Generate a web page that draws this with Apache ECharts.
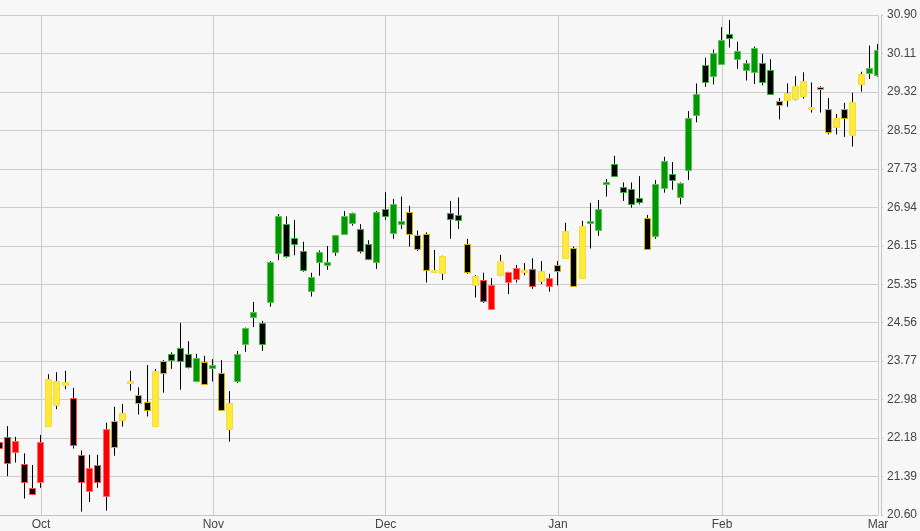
<!DOCTYPE html>
<html>
<head>
<meta charset="utf-8">
<script src="https://cdn.jsdelivr.net/npm/echarts@6/dist/echarts.min.js"></script>
<style>
html,body{margin:0;padding:0;background:#f7f7f7;}
#chart{width:920px;height:531px;}
</style>
</head>
<body>
<div id="chart"></div>
<script>
const dates = [
'2022-09-26','2022-09-27','2022-09-28','2022-09-29','2022-09-30',
'2022-10-03','2022-10-04','2022-10-05','2022-10-06','2022-10-07','2022-10-10','2022-10-11','2022-10-12','2022-10-13','2022-10-14',
'2022-10-17','2022-10-18','2022-10-19','2022-10-20','2022-10-21','2022-10-24','2022-10-25','2022-10-26','2022-10-27','2022-10-28','2022-10-31',
'2022-11-01','2022-11-02','2022-11-03','2022-11-04','2022-11-07','2022-11-08','2022-11-09','2022-11-10','2022-11-11','2022-11-14',
'2022-11-15','2022-11-16','2022-11-17','2022-11-18','2022-11-21','2022-11-22','2022-11-23','2022-11-25','2022-11-28','2022-11-29','2022-11-30',
'2022-12-01','2022-12-02','2022-12-05','2022-12-06','2022-12-07','2022-12-08','2022-12-09','2022-12-12','2022-12-13','2022-12-14',
'2022-12-15','2022-12-16','2022-12-19','2022-12-20','2022-12-21','2022-12-22','2022-12-23','2022-12-27','2022-12-28','2022-12-29','2022-12-30',
'2023-01-03','2023-01-04','2023-01-05','2023-01-06','2023-01-09','2023-01-10','2023-01-11','2023-01-12','2023-01-13','2023-01-17',
'2023-01-18','2023-01-19','2023-01-20','2023-01-23','2023-01-24','2023-01-25','2023-01-26','2023-01-27','2023-01-30','2023-01-31',
'2023-02-01','2023-02-02','2023-02-03','2023-02-06','2023-02-07','2023-02-08','2023-02-09','2023-02-10','2023-02-13','2023-02-14',
'2023-02-15','2023-02-16','2023-02-17','2023-02-21','2023-02-22','2023-02-23','2023-02-24','2023-02-27','2023-02-28',
'2023-03-01'];

const openVals = [
22.11,22.21,21.90,21.66,21.16,21.27,22.43,22.87,23.27,23.00,
21.84,21.09,21.63,20.99,22.54,22.56,23.32,23.07,22.93,22.43,
23.77,23.91,24.05,23.91,23.37,23.76,23.63,23.53,22.37,23.36,
24.12,24.67,24.55,24.99,25.99,26.60,26.31,26.04,25.21,25.81,
25.75,26.01,26.39,26.61,26.50,26.19,25.81,26.91,26.40,26.59,
26.84,26.37,26.39,25.61,25.59,26.83,26.77,26.19,25.33,25.45,
24.84,25.54,25.39,25.46,25.61,25.67,25.43,25.31,25.75,25.89,
26.11,25.48,26.62,26.47,27.41,27.84,27.36,27.32,27.14,26.72,
26.34,27.34,27.63,27.16,27.70,28.84,29.88,29.65,29.89,30.50,
29.99,29.77,29.73,29.91,29.76,29.12,29.15,29.16,29.23,28.96,
29.42,28.96,28.59,28.96,28.43,29.48,29.70,29.66];

const closeVals = [
21.99,21.67,22.12,21.27,21.03,22.10,23.40,23.37,23.33,22.04,
21.27,21.57,21.27,22.38,22.01,22.70,23.35,22.91,22.77,23.56,
23.53,23.79,23.77,23.64,23.83,23.30,23.68,22.76,22.91,23.92,
24.45,24.78,24.12,25.81,26.76,25.94,26.19,25.65,25.51,26.01,
25.81,26.36,26.75,26.82,26.04,25.88,26.85,26.76,27.01,26.66,
26.39,26.08,25.64,25.64,25.93,26.70,26.68,25.60,25.52,25.01,
25.33,25.84,25.60,25.69,25.65,25.32,25.62,25.49,25.63,26.46,
25.32,26.55,26.66,26.91,27.45,27.59,27.25,27.01,27.05,26.07,
27.41,27.90,27.51,27.43,28.77,29.28,29.52,30.11,30.38,30.42,
30.15,29.91,30.21,29.53,29.27,29.05,29.29,29.44,29.55,28.99,
29.38,28.50,28.77,28.78,29.11,29.68,29.80,30.17];

const highVals = [
22.15,22.43,22.21,21.87,21.63,22.25,23.50,23.54,23.57,23.22,
21.93,21.84,21.84,22.50,22.83,22.89,23.57,23.23,23.69,23.61,
23.79,23.95,24.56,24.18,23.92,23.88,23.81,23.79,23.15,23.98,
24.46,24.99,24.60,25.83,26.80,26.75,26.68,26.23,25.59,26.05,
26.14,26.37,26.86,26.83,26.59,26.26,26.86,27.25,27.11,27.16,
26.97,26.46,26.42,26.06,25.94,27.07,27.14,26.29,25.54,25.59,
25.48,25.96,25.61,25.75,25.79,25.89,25.83,25.57,25.83,26.62,
26.13,26.66,27.03,27.09,27.52,28.00,27.45,27.45,27.58,26.78,
27.50,27.98,27.87,27.45,28.92,29.49,30.02,30.19,30.65,30.80,
30.35,29.97,30.25,30.10,29.99,29.19,29.49,29.64,29.72,29.51,
29.43,29.19,28.86,29.09,29.30,29.73,30.27,30.30];

const lowVals = [
21.95,21.40,21.68,20.94,21.01,21.16,22.42,22.78,23.19,21.97,
20.67,20.87,21.16,20.69,21.82,22.42,23.16,22.67,22.63,22.42,
23.12,23.61,23.18,23.62,23.36,23.28,23.35,22.75,22.11,23.32,
23.96,24.47,23.98,24.89,25.85,25.90,25.95,25.61,25.10,25.53,
25.65,25.94,26.37,26.56,25.99,25.85,25.67,26.68,26.29,26.49,
26.13,26.04,25.39,25.59,25.44,26.29,26.49,25.57,25.08,24.97,
24.83,25.52,25.15,25.39,25.54,25.26,25.36,25.20,25.33,25.88,
25.31,25.47,26.09,26.35,27.16,27.56,27.07,26.93,27.00,26.06,
26.29,27.24,27.30,27.00,27.50,28.69,29.42,29.47,29.88,30.23,
29.79,29.55,29.48,29.45,29.26,28.75,29.01,29.14,29.18,28.89,
28.89,28.44,28.44,28.39,28.19,29.32,29.58,29.63];

// trend class per session: up / flat / down
const trend = [
'down','down','down','down','down','down','flat','flat','flat','down',
'down','down','down','down','flat','flat','flat','flat','flat','flat',
'flat','up','up','up','up','flat','up','flat','flat','up',
'up','up','up','up','up','up','up','up','up','up',
'up','up','up','up','up','up','up','up','up','up',
'flat','flat','flat','flat','flat','up','up','flat','flat','down',
'down','flat','down','down','flat','down','flat','down','flat','flat',
'flat','flat','up','up','up','up','up','up','up','flat',
'up','up','up','up','up','up','up','up','up','up',
'up','up','up','up','up','flat','flat','flat','flat','flat',
'flat','flat','flat','flat','flat','flat','up','up'];

const monthNames = ['Jan','Feb','Mar','Apr','May','Jun','Jul','Aug','Sep','Oct','Nov','Dec'];
const yMin = 20.60, yMax = 30.90, ySteps = 13;

const palette = {
  up:   {fill:'#009a00', line:'#5cc05c', darkLine:'#3aaa3a'},
  flat: {fill:'#ffea3c', line:'#f2dc40', darkLine:'#cdb400'},
  down: {fill:'#ff0000', line:'#ff6a6a', darkLine:'#ff4a4a'}
};

const isMonthStart = (i) => i > 0 && dates[i].slice(5,7) !== dates[i-1].slice(5,7);

const seriesData = dates.map((d, i) => [i, openVals[i], closeVals[i], lowVals[i], highVals[i]]);

const chart = echarts.init(document.getElementById('chart'), null, {renderer:'canvas'});
const font = {fontFamily:'"Liberation Sans", Arial, sans-serif', fontSize:12, color:'#444'};

chart.setOption({
  animation:false,
  backgroundColor:'#f7f7f7',
  grid:{left:0, right:40, top:15, bottom:16, containLabel:false},
  xAxis:{
    type:'category',
    data:dates,
    boundaryGap:false,
    axisLine:{show:true, lineStyle:{color:'#c4c4c4', width:1}},
    axisTick:{show:false},
    axisLabel:Object.assign({
      interval:(i) => isMonthStart(i),
      formatter:(v) => monthNames[parseInt(v.slice(5,7),10)-1],
      margin:4,
      hideOverlap:false
    }, font),
    splitLine:{show:true, interval:(i) => isMonthStart(i), lineStyle:{color:'#cccccc', width:1}}
  },
  yAxis:{
    type:'value',
    position:'right',
    offset:3,
    min:yMin,
    max:yMax,
    interval:(yMax - yMin) / ySteps,
    axisLine:{show:true, lineStyle:{color:'#c4c4c4', width:1}},
    axisTick:{show:true, length:2, lineStyle:{color:'#c4c4c4'}},
    axisLabel:Object.assign({
      formatter:(v) => v.toFixed(2),
      margin:6,
      verticalAlign:'middle',
      padding:[0,0,7,0]
    }, font),
    splitLine:{show:true, lineStyle:{color:'#cccccc', width:1}}
  },
  series:[{
    type:'custom',
    clip:true,
    encode:{x:0, y:[1,2,3,4]},
    data:seriesData,
    renderItem:(params, api) => {
      const i = api.value(0);
      const o = api.value(1), c = api.value(2), l = api.value(3), h = api.value(4);
      const pO = api.coord([i, o]);
      const pC = api.coord([i, c]);
      const pL = api.coord([i, l]);
      const pH = api.coord([i, h]);
      const cx = Math.round(pO[0]);
      const pal = palette[trend[i]];
      const upDay = c >= o;
      let top = Math.min(pO[1], pC[1]);
      let bot = Math.max(pO[1], pC[1]);
      if (bot - top < 2) { const m = (top + bot) / 2; top = m - 1; bot = m + 1; }
      top = Math.round(top) + 0.5;
      bot = Math.round(bot) + 0.5;
      return {
        type:'group',
        children:[
          {type:'line', shape:{x1:cx-0.5, y1:pH[1], x2:cx-0.5, y2:pL[1]}, style:{stroke:'#000', lineWidth:1}},
          {type:'rect', shape:{x:cx-3.5, y:top, width:6, height:bot-top},
           style:{fill: upDay ? pal.fill : '#000', stroke: upDay ? pal.line : pal.darkLine, lineWidth:1}}
        ]
      };
    }
  }]
});
</script>
</body>
</html>
